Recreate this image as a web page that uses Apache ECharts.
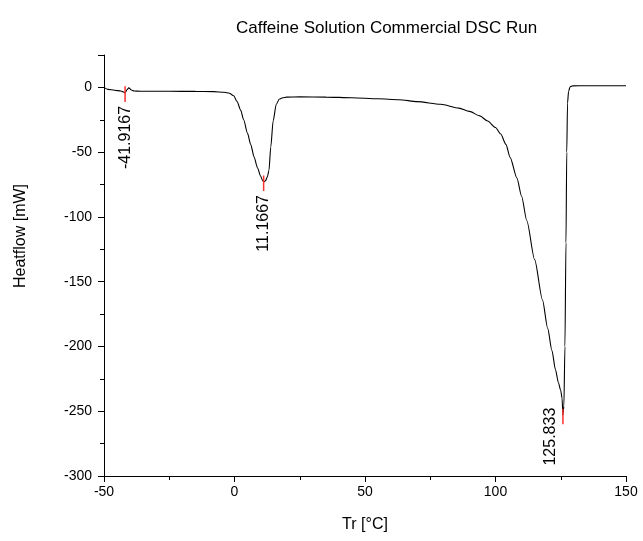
<!DOCTYPE html>
<html>
<head>
<meta charset="utf-8">
<script src="https://cdn.jsdelivr.net/npm/echarts@6/dist/echarts.min.js"></script>
<style>
html,body{margin:0;padding:0;background:#fff;}
#chart{width:643px;height:541px;}
</style>
</head>
<body>
<div id="chart"></div>
<script>
// Temperature (°C) and heat flow (mW)
var tempC = [-50, -48.5, -46, -43.5, -42.5, -41.92, -41.2, -40.5, -39.5, -38.5, -36, -25, -15, -8, -4, -2, -0.3, 1, 2.4, 3.5, 5, 6.2, 7.5, 8.8, 10, 10.8, 11.17, 11.9, 12.6, 13.2, 13.9, 14.8, 16, 17.2, 18.5, 20, 25, 35, 45, 55, 63, 70, 79, 86, 90, 94, 97, 100, 102, 104, 105.6, 108.2, 110, 112, 115, 118, 120, 121.6, 123, 124.1, 125, 125.5, 125.83, 126.2, 126.6, 127, 127.3, 127.6, 128, 128.6, 129.5, 135, 150];
var heatflow = [0, -1.5, -2.2, -2.8, -3.6, -4.2, -1.8, -0.4, -2, -2.8, -3, -3, -3.1, -3.3, -3.8, -4.5, -6.5, -11, -17.7, -25, -35.5, -44, -53.7, -62, -68.5, -72, -73, -72, -69, -64, -46, -26, -13, -9, -8, -7.5, -7.3, -7.5, -8, -8.8, -9.5, -11, -13, -16, -18.5, -22, -26, -31, -36, -44, -54, -70, -84, -103, -133, -164, -186, -203, -218, -228, -234, -240, -253, -246, -200, -120, -50, -12, -3, 0.5, 1.2, 1.3, 1.3];

// Peak annotations
var peakTemp = [-41.9167, 11.1667, 125.833];
var peakFlow = [-4.2, -73, -253];
var peakLabel = ['-41.9167', '11.1667', '125.833'];

// Axis ticks
var xMin = -50, xMax = 150, xStep = 50;
var yMin = -300, yMax = 25, yStep = 50;

var FONT = 'Liberation Sans, Arial, sans-serif';
var chart = echarts.init(document.getElementById('chart'), null, {renderer: 'canvas'});

var curve = tempC.map(function (t, i) { return [t, heatflow[i]]; });
var peaks = peakTemp.map(function (t, i) { return [t, peakFlow[i], peakLabel[i]]; });

var option = {
  animation: false,
  backgroundColor: '#ffffff',
  title: {
    text: 'Caffeine Solution Commercial DSC Run',
    left: 231, top: 15,
    textStyle: {fontFamily: FONT, fontSize: 17, fontWeight: 'normal', color: '#000'}
  },
  graphic: [{
    type: 'text', x: 21, y: 236, rotation: Math.PI / 2,
    style: {text: 'Heatflow [mW]', font: '16px ' + FONT, fill: '#000', align: 'center', verticalAlign: 'middle'}
  }],
  grid: {left: 104, right: 17, top: 55, bottom: 65},
  xAxis: {
    type: 'value', min: xMin, max: xMax, interval: xStep,
    name: 'Tr [°C]', nameLocation: 'middle', nameGap: 41,
    nameTextStyle: {fontFamily: FONT, fontSize: 16, color: '#000'},
    axisLine: {show: true, onZero: false, lineStyle: {color: '#000', width: 1}},
    axisTick: {show: true, inside: false, length: 6, lineStyle: {color: '#000'}},
    minorTick: {show: true, splitNumber: 2, length: 4, lineStyle: {color: '#000'}},
    axisLabel: {fontFamily: FONT, fontSize: 14, color: '#000', margin: 9},
    splitLine: {show: false}, minorSplitLine: {show: false}
  },
  yAxis: {
    type: 'value', min: yMin, max: yMax, interval: yStep,
    axisLine: {show: true, onZero: false, lineStyle: {color: '#000', width: 1}},
    axisTick: {show: true, inside: false, length: 6, lineStyle: {color: '#000'}},
    minorTick: {show: true, splitNumber: 2, length: 4, lineStyle: {color: '#000'}},
    axisLabel: {fontFamily: FONT, fontSize: 14, color: '#000', margin: 12, showMaxLabel: false},
    splitLine: {show: false}, minorSplitLine: {show: false}
  },
  series: [
    {
      type: 'line', data: curve, showSymbol: false, smooth: 0.25, smoothMonotone: 'x',
      lineStyle: {color: '#000', width: 1.1}, silent: true, z: 2
    },
    {
      type: 'custom', data: peaks, z: 3, silent: true,
      renderItem: function (params, api) {
        var x = api.value(0), y = api.value(1);
        var top = api.coord([x, y + 5]);
        var bot = api.coord([x, y - 7]);
        var plotBottom = params.coordSys.y + params.coordSys.height;
        var label = peakLabel[params.dataIndex];
        var tx = bot[0], ty = bot[1] + 4;
        // if label would run past the axis, shift it left and up
        var approx = label.length * 8.9;
        if (ty + approx > plotBottom) {
          tx = bot[0] - 12;
          ty = plotBottom - 6 - approx;
        }
        return {
          type: 'group',
          children: [
            {type: 'line', shape: {x1: top[0], y1: top[1], x2: bot[0], y2: bot[1]},
             style: {stroke: '#ff3030', lineWidth: 1.5}},
            {type: 'text', x: tx, y: ty, rotation: Math.PI / 2,
             style: {text: label, fill: '#000', font: '16px ' + FONT, align: 'right', verticalAlign: 'middle'}}
          ]
        };
      }
    }
  ]
};
chart.setOption(option);
</script>
</body>
</html>
